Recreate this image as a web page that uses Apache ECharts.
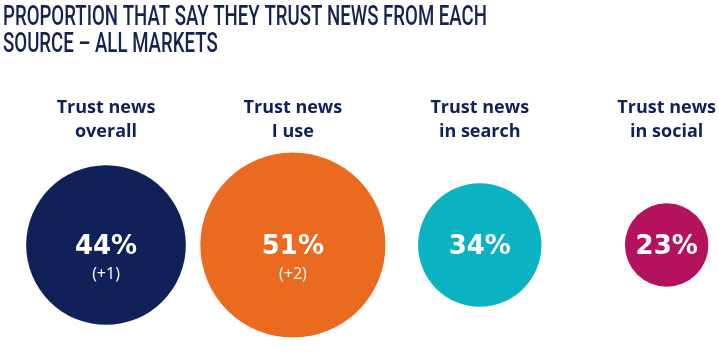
<!DOCTYPE html>
<html><head><meta charset="utf-8">
<script src="https://cdn.jsdelivr.net/npm/echarts@6/dist/echarts.min.js"></script>
<style>html,body{margin:0;padding:0;background:#fff}#c{width:719px;height:353px}</style>
</head><body><div id="c"></div>
<script>
var titleLines = ['PROPORTION THAT SAY THEY TRUST NEWS FROM EACH', 'SOURCE \u2013 ALL MARKETS'];
var categories = ['Trust news\noverall', 'Trust news\nI use', 'Trust news\nin search', 'Trust news\nin social'];
var values = [44, 51, 34, 23];
var changes = ['(+1)', '(+2)', '', ''];
var colors = ['#10215a', '#ea6a1f', '#0ab2c2', '#b4125e'];

var sizeScale = 3.63;
var data = values.map(function (v, i) {
  var hasChange = changes[i] !== '';
  return {
    value: [i, 0, v],
    symbolSize: v * sizeScale,
    itemStyle: { color: colors[i], opacity: 1 },
    label: {
      show: true, position: 'inside',
      offset: hasChange ? [0, 16] : [0, 2],
      formatter: function () { return hasChange ? '{a|' + v + '%}\n{b|' + changes[i] + '}' : '{a|' + v + '%}'; },
      rich: {
        a: { fontFamily: 'DejaVu Sans', fontWeight: 'bold', fontSize: 26, color: '#fff', lineHeight: 27 },
        b: { fontFamily: 'Open Sans', fontSize: 16, color: '#fff', lineHeight: 27 }
      }
    }
  };
});

// horizontal squeeze for the condensed title face
var titleFont = '500 27px Roboto';
var ctx = document.createElement('canvas').getContext('2d');
ctx.font = titleFont;
var titleScale = 484 / ctx.measureText(titleLines[0]).width;

var chart = echarts.init(document.getElementById('c'), null, { renderer: 'canvas' });
chart.setOption({
  animation: false,
  graphic: titleLines.map(function (t, k) {
    return {
      type: 'text', left: 3, top: 5 + k * 27, scaleX: titleScale, originX: 0,
      style: { text: t, font: titleFont, fill: '#14234f' }
    };
  }),
  grid: { left: 106, right: 48, top: 150, bottom: 13 },
  xAxis: {
    type: 'category', data: categories, position: 'top', boundaryGap: false,
    axisLine: { show: false }, axisTick: { show: false }, splitLine: { show: false },
    axisLabel: { margin: 6, fontFamily: 'Open Sans', fontWeight: 'bold', fontSize: 18, lineHeight: 24, color: '#10215a', interval: 0 }
  },
  yAxis: { type: 'category', data: [''], show: false },
  series: [{ type: 'scatter', data: data, emphasis: { disabled: true } }]
});
</script></body></html>
